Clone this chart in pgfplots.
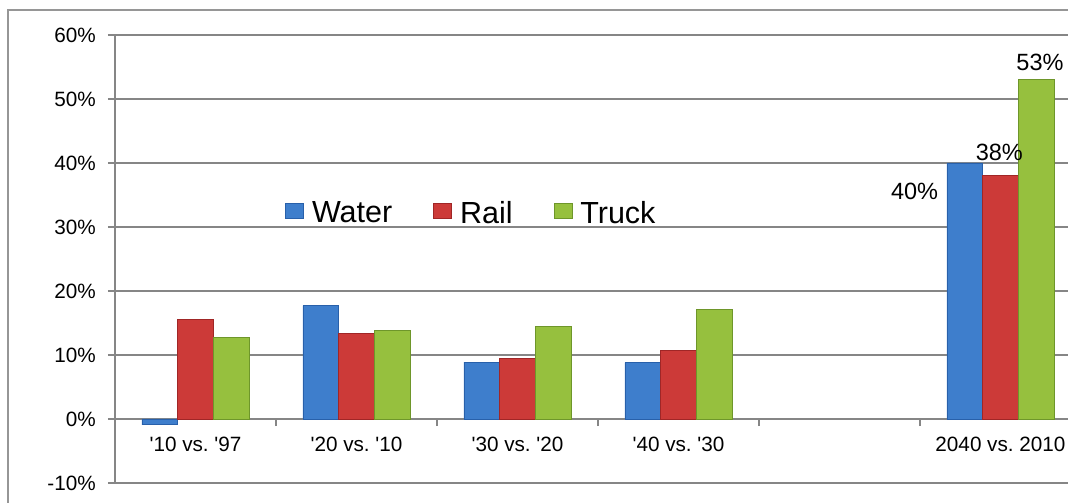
\documentclass[border=0pt]{standalone}
\usepackage{pgfplots}
\pgfplotsset{compat=1.18}
\usepackage{pgfplotstable}
\usepackage{fontspec}
\setmainfont{Liberation Sans}

\definecolor{gridgray}{RGB}{134,134,134}
\definecolor{framegray}{RGB}{150,150,150}
\definecolor{waterM}{RGB}{62,126,204}
\definecolor{waterE}{RGB}{40,96,170}
\definecolor{railM}{RGB}{204,58,56}
\definecolor{railE}{RGB}{160,38,38}
\definecolor{truckM}{RGB}{150,192,62}
\definecolor{truckE}{RGB}{110,150,42}

% growth in freight tonnage by mode (%)
\pgfplotstableread{
x water rail truck
0 -0.9 15.5 12.8
1 17.7 13.3 13.8
2 8.9  9.4  14.5
3 8.8  10.7 17.1
5 40   38   53
}\freight

\begin{document}
\begin{tikzpicture}
\useasboundingbox (0,0) rectangle (1068bp,503bp);
\clip (0,0) rectangle (1068bp,503bp);
\draw[framegray, line width=1.2bp] (8bp,-20bp) -- (8bp,493bp) -- (1100bp,493bp);
\begin{axis}[
  at={(115bp,20bp)}, anchor=south west,
  scale only axis, width=966bp, height=448bp,
  xmin=-0.5, xmax=5.5, ymin=-10, ymax=60,
  axis y line=left, axis x line=middle,
  axis line style={gridgray, line width=1.2bp, -},
  tick style={gridgray, line width=1.2bp},
  tick align=outside, major tick length=7bp,
  ytick={-10,0,...,60},
  yticklabels={-10\%,0\%,10\%,20\%,30\%,40\%,50\%,60\%},
  ymajorgrids, grid style={gridgray, line width=1.2bp},
  xtick={0.5,1.5,2.5,3.5,4.5},
  xticklabels={},
  extra x ticks={0,1,2,3,5},
  extra x tick labels={\textquotesingle10 vs.\ \textquotesingle97,
                       \textquotesingle20 vs.\ \textquotesingle10,
                       \textquotesingle30 vs.\ \textquotesingle20,
                       \textquotesingle40 vs.\ \textquotesingle30,
                       2040 vs.\ 2010},
  extra x tick style={major tick length=0pt},
  tick label style={font=\fontsize{20.7bp}{24bp}\selectfont, inner sep=0pt},
  yticklabel style={xshift=-12bp},
  xticklabel style={anchor=north, yshift=-18bp},
  ybar=0pt, bar width=35.7bp,
  legend columns=3,
  legend style={at={(0.176,0.603)}, anchor=west, draw=none, fill=none,
    inner sep=0pt, font=\fontsize{30.5bp}{34bp}\selectfont,
    nodes={inner sep=0pt},
    /tikz/every odd column/.append style={column sep=8bp},
    /tikz/every even column/.append style={column sep=41bp}},
  legend image code/.code={\fill[#1] (0bp,-6bp) rectangle (18bp,9bp);},
  every axis plot/.append style={line width=0.8bp},
]
\addplot[draw=waterE, fill=waterM] table[x=x, y=water]{\freight};
\addplot[draw=railE, fill=railM] table[x=x, y=rail]{\freight};
\addplot[draw=truckE, fill=truckM] table[x=x, y=truck]{\freight};
\legend{Water, Rail, Truck}
\node[font=\fontsize{23.5bp}{26bp}\selectfont, inner sep=0pt] at (axis cs:4.466,35.5) {40\%};
\node[font=\fontsize{23.5bp}{26bp}\selectfont, inner sep=0pt] at (axis cs:4.993,41.6) {38\%};
\node[font=\fontsize{23.5bp}{26bp}\selectfont, inner sep=0pt] at (axis cs:5.245,55.7) {53\%};
\end{axis}
\end{tikzpicture}
\end{document}
